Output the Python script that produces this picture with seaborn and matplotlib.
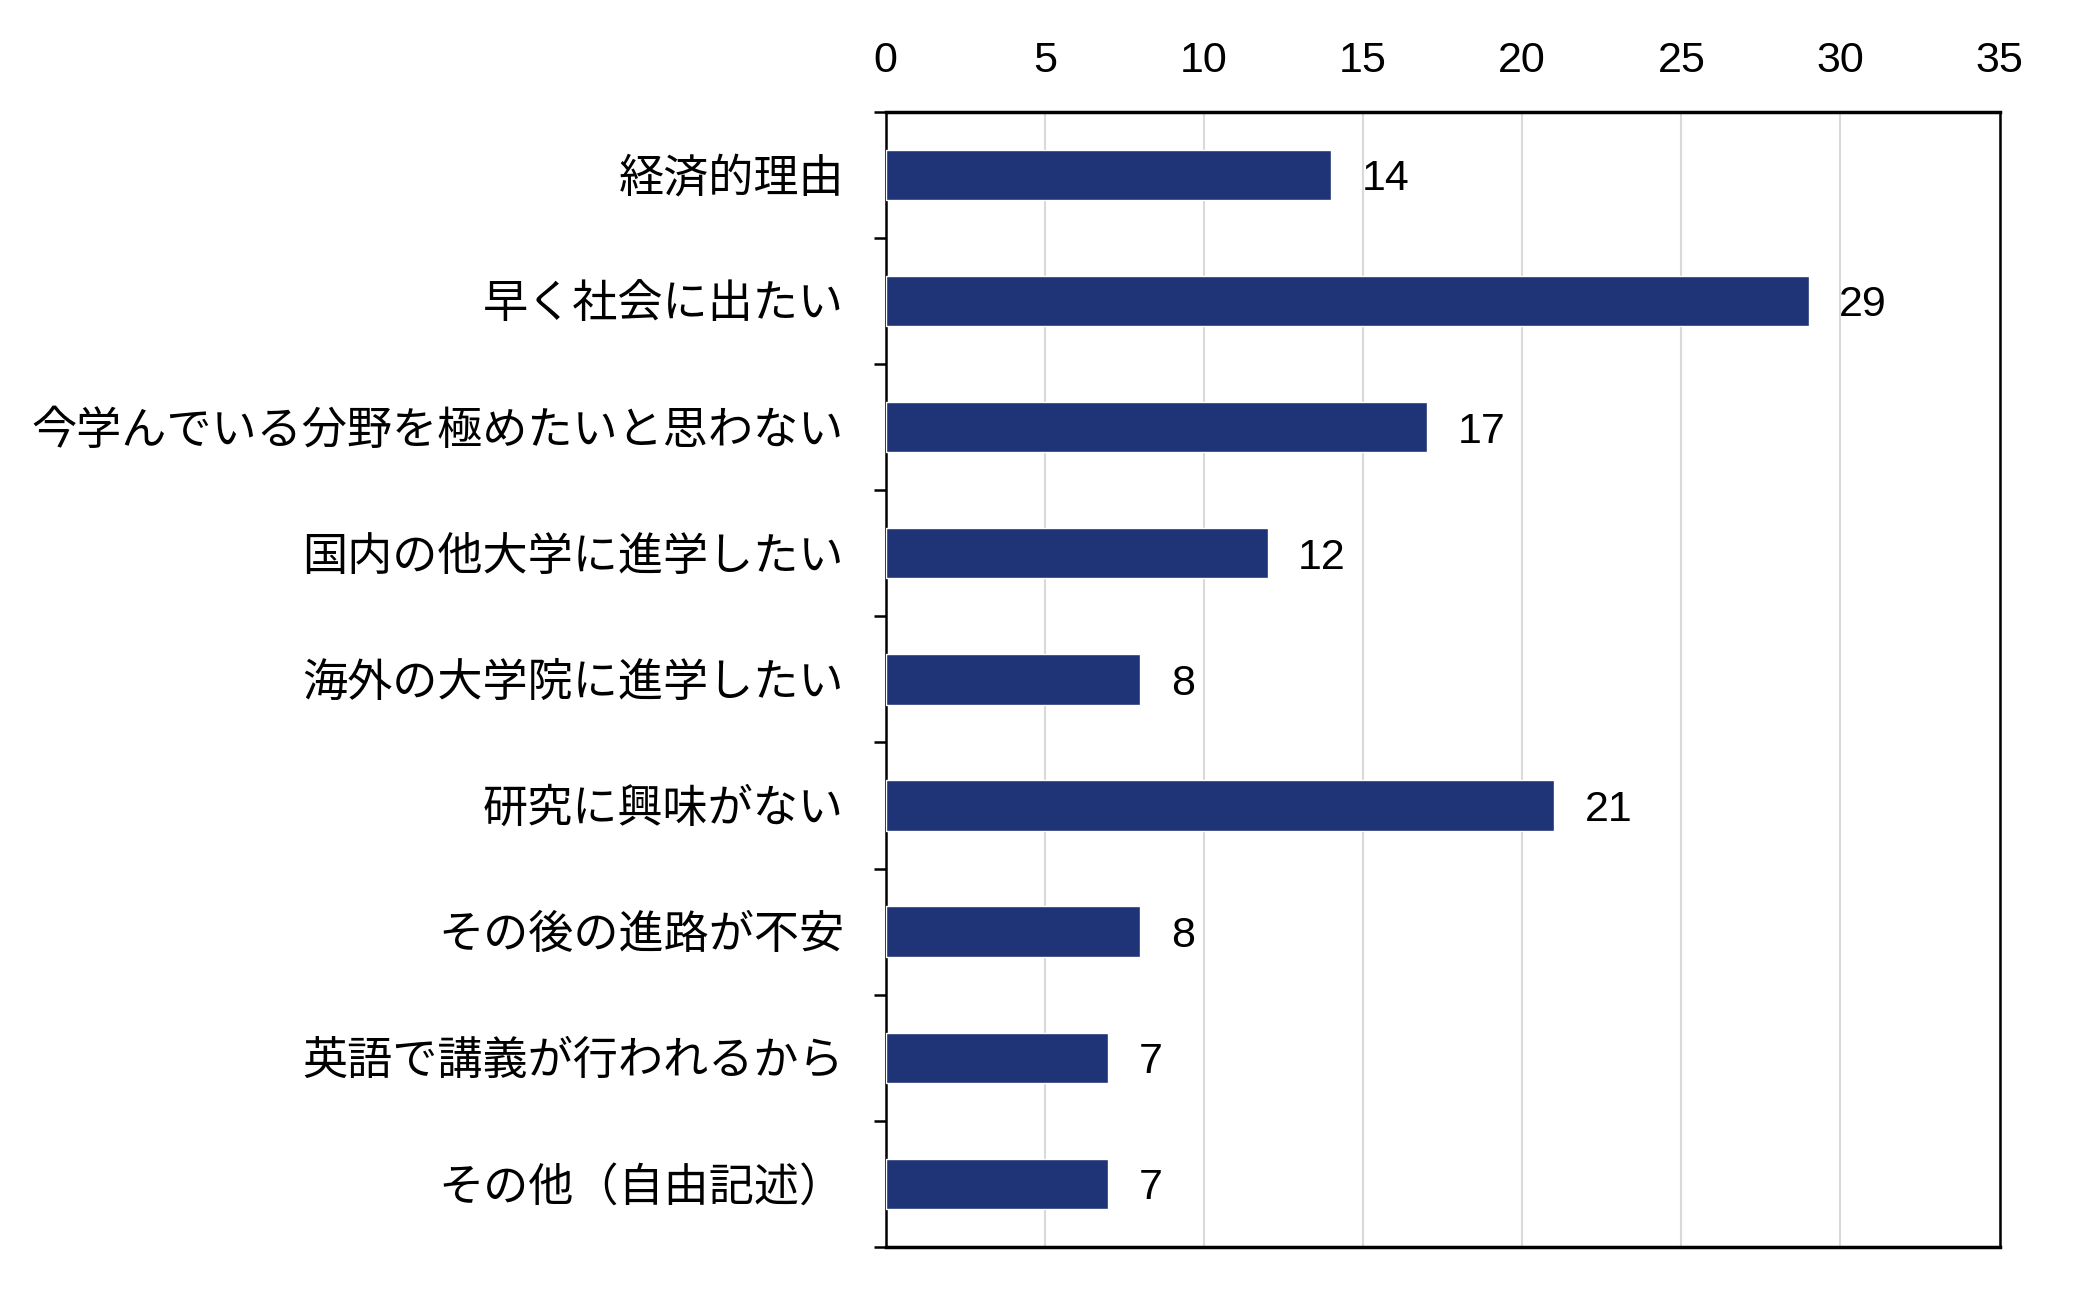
import seaborn as sns
import matplotlib.pyplot as plt
import pandas as pd
from matplotlib.ticker import MultipleLocator, FixedLocator

# データ
reasons = [
    '経済的理由',
    '早く社会に出たい',
    '今学んでいる分野を極めたいと思わない',
    '国内の他大学に進学したい',
    '海外の大学院に進学したい',
    '研究に興味がない',
    'その後の進路が不安',
    '英語で講義が行われるから',
    'その他（自由記述）',
]
counts = [14, 29, 17, 12, 8, 21, 8, 7, 7]

df = pd.DataFrame({'reason': reasons, 'count': counts})

sns.set_style('white')
plt.rcParams['font.family'] = ['Liberation Sans', 'Noto Sans CJK JP', 'DejaVu Sans']
plt.rcParams['text.color'] = 'black'
plt.rcParams['xtick.color'] = 'black'
plt.rcParams['ytick.color'] = 'black'

fig = plt.figure(figsize=(20.79, 12.99), dpi=100)
ax = fig.add_axes([0.426, 0.040, 0.5358, 0.874])

sns.barplot(data=df, x='count', y='reason', orient='h', color='#1F3377',
            width=0.4, saturation=1, ax=ax, zorder=3)

# 値ラベル
labels = ax.bar_label(ax.containers[0], padding=22, fontsize=31, color='black')
for t in labels:
    t.set_va('center_baseline')

ax.set_xlim(0, 35)
ax.set_ylim(len(reasons) - 0.5, -0.5)
ax.xaxis.set_major_locator(MultipleLocator(5))
ax.xaxis.tick_top()
ax.tick_params(axis='x', length=0, pad=22, labelsize=31, labelcolor='black')
ax.tick_params(axis='y', which='major', length=0, pad=30, labelsize=32.5,
               labelcolor='black')
ax.yaxis.set_minor_locator(FixedLocator([i + 0.5 for i in range(-1, len(reasons))]))
ax.tick_params(axis='y', which='minor', left=True, length=9, width=1.8,
               direction='out', color='black')

ax.grid(axis='x', color='#D9D9D9', linewidth=1.5, zorder=0)
ax.set_axisbelow(True)
for s in ['top', 'bottom']:
    ax.spines[s].set_linewidth(2.5)
for s in ['left', 'right']:
    ax.spines[s].set_linewidth(1.8)
for s in ax.spines.values():
    s.set_color('black')

ax.set_xlabel('')
ax.set_ylabel('')

fig.savefig('out.png', dpi=100)
